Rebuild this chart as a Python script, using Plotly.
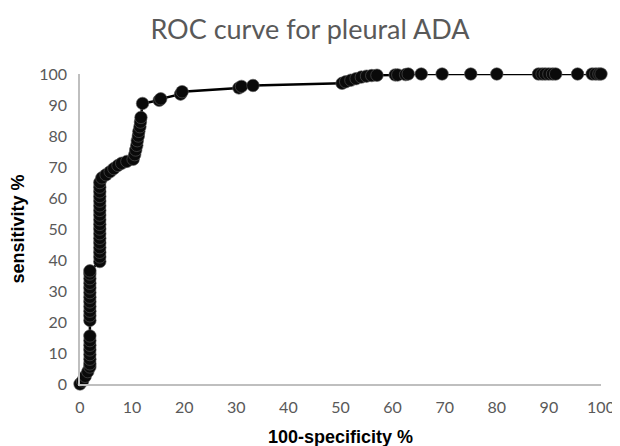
import plotly.graph_objects as go

fpr = [0, 0.5, 1.0, 1.5,
       1.9, 1.9, 1.9, 1.9, 1.9, 1.9, 1.9, 1.9,
       1.9, 1.9, 1.9, 1.9, 1.9, 1.9, 1.9, 1.9, 1.9, 1.9, 1.9, 1.9,
       3.8, 3.8, 3.8, 3.8, 3.8, 3.8, 3.8, 3.8, 3.8, 3.8, 3.8, 3.8, 3.8, 3.8, 3.8, 3.8, 3.8, 3.8,
       4.2, 5.0, 5.8, 6.5, 7.3, 8.0, 9.0, 10.2,
       10.5, 10.7, 10.9, 11.0, 11.2, 11.3, 11.5, 11.6, 11.7, 12.0,
       15.2, 15.5, 19.3, 19.6, 30.5, 31.0, 33.2,
       50.3, 51.0, 52.0, 53.0, 54.0, 55.0, 56.0, 57.0, 60.5, 61.0, 62.5, 63.0,
       65.5, 69.5, 75.0, 80.0, 88.0, 88.7, 89.3, 90.0, 90.7, 91.3, 95.5, 98.3, 99.0, 99.6, 100]
tpr = [0, 1.0, 2.5, 4.0,
       5.5, 6.5, 8.0, 9.5, 11.0, 12.5, 14.0, 15.5,
       20.5, 22.0, 23.5, 25.0, 26.5, 28.0, 29.5, 31.0, 32.5, 34.0, 35.5, 36.5,
       39.5, 41.0, 42.5, 44.0, 45.5, 47.0, 48.5, 50.0, 51.5, 53.0, 54.5, 56.0, 57.5, 59.0, 60.5, 62.0, 63.5, 65.0,
       66.5, 67.5, 68.5, 69.5, 70.5, 71.2, 71.8, 72.5,
       74.0, 75.5, 77.0, 78.5, 80.0, 81.5, 83.0, 84.5, 86.0, 90.5,
       91.5, 92.0, 93.5, 94.3, 95.5, 96.0, 96.3,
       97.0, 97.5, 98.0, 98.5, 99.0, 99.3, 99.5, 99.6, 99.7, 99.7, 99.8, 100,
       100, 100, 100, 100, 100, 100, 100, 100, 100, 100, 100, 100, 100, 100, 100]

x_ticks = [0, 10, 20, 30, 40, 50, 60, 70, 80, 90, 100]
y_ticks = [0, 10, 20, 30, 40, 50, 60, 70, 80, 90, 100]

fig = go.Figure()
fig.add_trace(go.Scatter(
    x=fpr, y=tpr, mode="lines+markers",
    line=dict(color="#000000", width=2.5),
    marker=dict(size=12.5, color="#0a0a0a", line=dict(color="#5a5a5a", width=0.6)),
    cliponaxis=False, showlegend=False,
))

# the page adds an 8px body margin, so the figure is offset by 8px
fig.update_layout(
    width=620, height=446,
    paper_bgcolor="white", plot_bgcolor="white",
    margin=dict(l=72, r=27, t=66, b=70),
    title=dict(text="ROC curve for pleural ADA", x=0.487, xanchor="center",
               y=0.951, yanchor="middle",
               font=dict(family="Lato", size=27, color="#595959")),
    font=dict(family="Lato"),
)
fig.update_xaxes(
    range=[0, 100], tickvals=x_ticks, showgrid=False, zeroline=False,
    showline=True, linecolor="#bfbfbf", linewidth=1.5, automargin=False,
    ticks="outside", ticklen=8, tickcolor="rgba(0,0,0,0)",
    tickfont=dict(family="Lato", size=16, color="#595959"),
    title=dict(text="<b>100-specificity %</b>", standoff=15,
               font=dict(family="Liberation Sans", size=18, color="#000000")),
)
fig.update_yaxes(
    range=[0, 100], tickvals=y_ticks, showgrid=False, zeroline=False,
    showline=True, linecolor="#bfbfbf", linewidth=1.5, automargin=False,
    ticks="outside", ticklen=8, tickcolor="rgba(0,0,0,0)",
    tickfont=dict(family="Lato", size=16, color="#595959"),
    title=dict(text="<b>sensitivity %</b>", standoff=12,
               font=dict(family="Liberation Sans", size=18, color="#000000")),
)

fig.write_html("out.html")
